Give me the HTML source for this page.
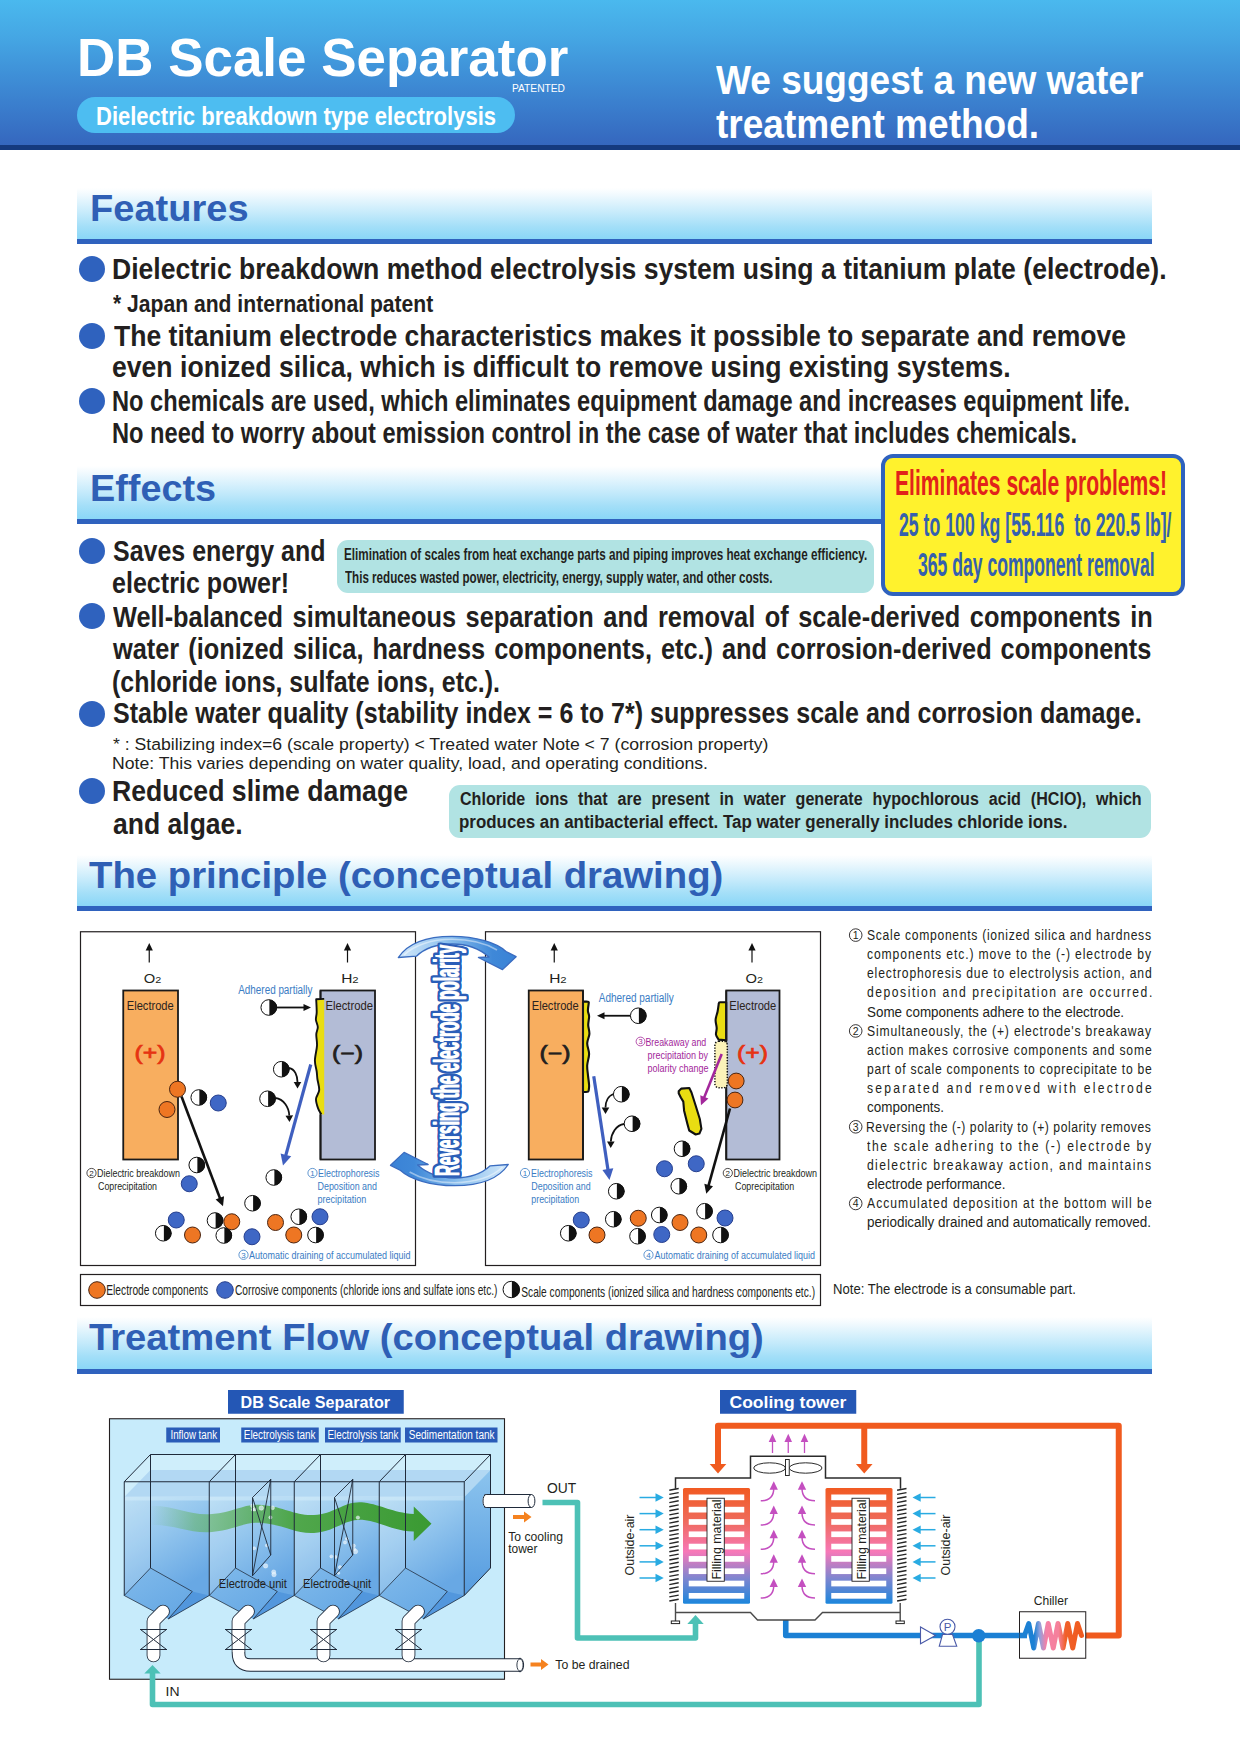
<!DOCTYPE html>
<html lang="en">
<head>
<meta charset="utf-8">
<title>DB Scale Separator</title>
<style>
html,body{margin:0;padding:0;background:#fff;}
body{width:1240px;height:1754px;position:relative;overflow:hidden;font-family:"Liberation Sans",sans-serif;}
.t{position:absolute;white-space:pre;line-height:1em;font-weight:bold;transform-origin:0 0;margin:0;padding:0;}
.hdr{position:absolute;left:0;top:0;width:1240px;height:145px;background:linear-gradient(180deg,#4ab9ee 0%,#45a7e4 25%,#3f91d8 50%,#3a7ccc 75%,#3567be 100%);}
.hdrline{position:absolute;left:0;top:144.5px;width:1240px;height:5.5px;background:#153a7e;}
.pill{position:absolute;left:77px;top:97px;width:438px;height:35.5px;border-radius:18px;background:#4dbdf1;}
.bar{position:absolute;left:77px;width:1075px;background:linear-gradient(180deg,#ffffff 0%,#f2fafe 12%,#c4eafb 50%,#a4dff8 75%,#8ad7f7 100%);border-bottom:5px solid #2f62be;}
.bul{position:absolute;width:26px;height:26px;border-radius:50%;background:#2f62be;left:78.75px;}
.teal{position:absolute;background:#b1e3e3;border-radius:11px;}
.ybox{position:absolute;left:880.7px;top:453.5px;width:296.3px;height:134.8px;border:4.5px solid #2f62be;border-radius:12px;background:#fff22d;}
svg{position:absolute;left:0;top:0;}
</style>
</head>
<body>
<div class="hdr"></div><div class="hdrline"></div>
<div class="pill"></div>

<div class="bar" style="top:188.2px;height:50.6px;"></div>
<div class="bar" style="top:466px;height:52.6px;"></div>
<div class="bar" style="top:855px;height:50.75px;"></div>
<div class="bar" style="top:1316.5px;height:52.2px;"></div>

<div class="bul" style="top:255.75px"></div>
<div class="bul" style="top:322.50px"></div>
<div class="bul" style="top:387.50px"></div>
<div class="bul" style="top:538.25px"></div>
<div class="bul" style="top:603.25px"></div>
<div class="bul" style="top:700.75px"></div>
<div class="bul" style="top:777.50px"></div>

<div class="teal" style="left:337px;top:539.5px;width:537px;height:53px;"></div>
<div class="teal" style="left:448.75px;top:784.5px;width:702.5px;height:53px;"></div>
<div class="ybox"></div>

<svg width="1240" height="1754" viewBox="0 0 1240 1754" font-family="'Liberation Sans', sans-serif">
<defs>
<linearGradient id="swT" x1="0" y1="0" x2="1" y2="0"><stop offset="0" stop-color="#d2e8fa"/><stop offset="0.4" stop-color="#8fc2ee"/><stop offset="0.8" stop-color="#3f88d8"/><stop offset="1" stop-color="#3a82d6"/></linearGradient>
<linearGradient id="swB" x1="1" y1="0" x2="0" y2="0"><stop offset="0" stop-color="#dff0fb"/><stop offset="0.45" stop-color="#8cc3ee"/><stop offset="1" stop-color="#2f7ed2"/></linearGradient>
</defs>
<rect x="80.5" y="931.75" width="335" height="333.75" fill="#fff" stroke="#231f20" stroke-width="1.2"/>
<rect x="485.5" y="931.75" width="335" height="333.75" fill="#fff" stroke="#231f20" stroke-width="1.2"/>
<rect x="80.5" y="1274.5" width="740" height="31" fill="#fff" stroke="#231f20" stroke-width="1.2"/>
<rect x="123.25" y="990.5" width="54.75" height="169" fill="#f8ae5f" stroke="#1a1a1a" stroke-width="1.8"/>
<rect x="320.5" y="990.5" width="54.5" height="169" fill="#b3bcd6" stroke="#1a1a1a" stroke-width="1.8"/>
<rect x="528.75" y="990.5" width="54.25" height="169" fill="#f8ae5f" stroke="#1a1a1a" stroke-width="1.8"/>
<rect x="726.25" y="990.5" width="53.25" height="169" fill="#b3bcd6" stroke="#1a1a1a" stroke-width="1.8"/>
<line x1="149.25" y1="962.5" x2="149.25" y2="949" stroke="#111" stroke-width="1.2"/>
<path d="M149.25,943 L152.85,950.5 L145.65,950.5 Z" fill="#111"/>
<text x="143.7" y="983" font-size="13" fill="#231f20" textLength="17.5" lengthAdjust="spacingAndGlyphs">O<tspan font-size="9.5">2</tspan></text>
<line x1="347.5" y1="962.5" x2="347.5" y2="949" stroke="#111" stroke-width="1.2"/>
<path d="M347.5,943 L351.1,950.5 L343.9,950.5 Z" fill="#111"/>
<text x="341.2" y="983" font-size="13" fill="#231f20" textLength="17.5" lengthAdjust="spacingAndGlyphs">H<tspan font-size="9.5">2</tspan></text>
<line x1="554.25" y1="962.5" x2="554.25" y2="949" stroke="#111" stroke-width="1.2"/>
<path d="M554.25,943 L557.85,950.5 L550.65,950.5 Z" fill="#111"/>
<text x="549.2" y="983" font-size="13" fill="#231f20" textLength="17.5" lengthAdjust="spacingAndGlyphs">H<tspan font-size="9.5">2</tspan></text>
<line x1="752" y1="962.5" x2="752" y2="949" stroke="#111" stroke-width="1.2"/>
<path d="M752,943 L755.6,950.5 L748.4,950.5 Z" fill="#111"/>
<text x="745.45" y="983" font-size="13" fill="#231f20" textLength="17.5" lengthAdjust="spacingAndGlyphs">O<tspan font-size="9.5">2</tspan></text>
<text x="126.75" y="1009.5" font-size="13" fill="#2b2320" font-weight="normal" textLength="47.0" lengthAdjust="spacingAndGlyphs" >Electrode</text>
<text x="325.5" y="1009.5" font-size="13" fill="#2b2320" font-weight="normal" textLength="47.5" lengthAdjust="spacingAndGlyphs" >Electrode</text>
<text x="531.75" y="1009.5" font-size="13" fill="#2b2320" font-weight="normal" textLength="47.0" lengthAdjust="spacingAndGlyphs" >Electrode</text>
<text x="729.25" y="1009.5" font-size="13" fill="#2b2320" font-weight="normal" textLength="47.0" lengthAdjust="spacingAndGlyphs" >Electrode</text>
<text x="150" y="1060" font-size="19.5" font-weight="normal" fill="#e63312" stroke="#e63312" stroke-width="0.7" text-anchor="middle" textLength="31" lengthAdjust="spacingAndGlyphs">(+)</text>
<text x="347.5" y="1060" font-size="19.5" font-weight="normal" fill="#231f20" stroke="#231f20" stroke-width="0.7" text-anchor="middle" textLength="31" lengthAdjust="spacingAndGlyphs">(−)</text>
<text x="555" y="1060" font-size="19.5" font-weight="normal" fill="#231f20" stroke="#231f20" stroke-width="0.7" text-anchor="middle" textLength="31" lengthAdjust="spacingAndGlyphs">(−)</text>
<text x="752.5" y="1060" font-size="19.5" font-weight="normal" fill="#e63312" stroke="#e63312" stroke-width="0.7" text-anchor="middle" textLength="31" lengthAdjust="spacingAndGlyphs">(+)</text>
<path d="M324.2,998.9 L316.2,999.3 C316.28,1001.45 316.75,1008.80 316.70,1012.20 C316.65,1015.60 315.72,1017.22 315.90,1019.70 C316.08,1022.18 317.73,1024.63 317.80,1027.10 C317.87,1029.57 316.43,1031.42 316.30,1034.50 C316.17,1037.58 317.23,1041.28 317.00,1045.60 C316.77,1049.92 314.95,1056.08 314.90,1060.40 C314.85,1064.72 316.28,1068.40 316.70,1071.50 C317.12,1074.60 316.98,1075.90 317.40,1079.00 C317.82,1082.10 319.43,1086.77 319.20,1090.10 C318.97,1093.43 316.17,1095.92 316.00,1099.00 C315.83,1102.08 317.32,1106.07 318.20,1108.60 C319.08,1111.13 320.78,1113.27 321.30,1114.20 L324.2,1114.4 Z" fill="#e9dd12"/>
<path d="M324.2,998.9 L316.2,999.3 C316.28,1001.45 316.75,1008.80 316.70,1012.20 C316.65,1015.60 315.72,1017.22 315.90,1019.70 C316.08,1022.18 317.73,1024.63 317.80,1027.10 C317.87,1029.57 316.43,1031.42 316.30,1034.50 C316.17,1037.58 317.23,1041.28 317.00,1045.60 C316.77,1049.92 314.95,1056.08 314.90,1060.40 C314.85,1064.72 316.28,1068.40 316.70,1071.50 C317.12,1074.60 316.98,1075.90 317.40,1079.00 C317.82,1082.10 319.43,1086.77 319.20,1090.10 C318.97,1093.43 316.17,1095.92 316.00,1099.00 C315.83,1102.08 317.32,1106.07 318.20,1108.60 C319.08,1111.13 320.78,1113.27 321.30,1114.20" fill="none" stroke="#111" stroke-width="1.9" stroke-linejoin="round"/>
<line x1="320.5" y1="990.5" x2="320.5" y2="998" stroke="#1a1a1a" stroke-width="1.8"/>
<line x1="320.5" y1="1114.6" x2="320.5" y2="1159.5" stroke="#1a1a1a" stroke-width="1.8"/>
<text x="238.25" y="993.75" font-size="12.5" fill="#3a7cc4" font-weight="normal" textLength="74.2" lengthAdjust="spacingAndGlyphs" >Adhered partially</text>
<circle cx="268.75" cy="1007.5" r="7.8" fill="#fff"/>
<path d="M269.35,999.7 A7.8,7.8 0 0 1 269.35,1015.3 Z" fill="#111"/>
<circle cx="268.75" cy="1007.5" r="7.8" fill="none" stroke="#111" stroke-width="1"/>
<line x1="277.00" y1="1007.50" x2="304.50" y2="1007.50" stroke="#111" stroke-width="1.8"/>
<path d="M311.00,1007.50 L303.50,1011.10 L303.50,1007.50 L303.50,1003.90 Z" fill="#111"/>
<circle cx="281.25" cy="1069.25" r="7.8" fill="#fff"/>
<path d="M281.85,1061.45 A7.8,7.8 0 0 1 281.85,1077.05 Z" fill="#111"/>
<circle cx="281.25" cy="1069.25" r="7.8" fill="none" stroke="#111" stroke-width="1"/>
<path d="M289,1068 C295,1069 297.5,1076 297.50,1082.00" fill="none" stroke="#111" stroke-width="1.8"/>
<path d="M297.50,1088.50 L293.70,1082.00 L301.30,1082.00 Z" fill="#111"/>
<circle cx="267.5" cy="1098.75" r="7.8" fill="#fff"/>
<path d="M268.1,1090.95 A7.8,7.8 0 0 1 268.1,1106.55 Z" fill="#111"/>
<circle cx="267.5" cy="1098.75" r="7.8" fill="none" stroke="#111" stroke-width="1"/>
<path d="M275.3,1098 C284,1099 289,1108 289.27,1115.50" fill="none" stroke="#111" stroke-width="1.8"/>
<path d="M289.50,1122.00 L285.47,1115.64 L293.07,1115.37 Z" fill="#111"/>
<line x1="310.75" y1="1064.50" x2="285.65" y2="1155.86" stroke="#3f5fbf" stroke-width="3.2"/>
<path d="M283.00,1165.50 L280.61,1153.44 L285.91,1154.89 L291.22,1156.35 Z" fill="#3f5fbf"/>
<circle cx="177.5" cy="1089.25" r="8" fill="#ee7623" stroke="#4a2410" stroke-width="1"/>
<circle cx="167" cy="1109.5" r="8" fill="#ee7623" stroke="#4a2410" stroke-width="1"/>
<line x1="181.50" y1="1096.50" x2="220.17" y2="1198.77" stroke="#111" stroke-width="2.6"/>
<path d="M223.00,1206.25 L215.61,1199.42 L219.82,1197.83 L224.03,1196.24 Z" fill="#111"/>
<circle cx="198.75" cy="1097.5" r="7.8" fill="#fff"/>
<path d="M199.35,1089.7 A7.8,7.8 0 0 1 199.35,1105.3 Z" fill="#111"/>
<circle cx="198.75" cy="1097.5" r="7.8" fill="none" stroke="#111" stroke-width="1"/>
<circle cx="218.25" cy="1103" r="8" fill="#3f67c5" stroke="#27408f" stroke-width="1"/>
<circle cx="196.75" cy="1165" r="7.8" fill="#fff"/>
<path d="M197.35,1157.2 A7.8,7.8 0 0 1 197.35,1172.8 Z" fill="#111"/>
<circle cx="196.75" cy="1165" r="7.8" fill="none" stroke="#111" stroke-width="1"/>
<circle cx="189.25" cy="1183.75" r="8" fill="#3f67c5" stroke="#27408f" stroke-width="1"/>
<circle cx="273.75" cy="1177.5" r="7.8" fill="#fff"/>
<path d="M274.35,1169.7 A7.8,7.8 0 0 1 274.35,1185.3 Z" fill="#111"/>
<circle cx="273.75" cy="1177.5" r="7.8" fill="none" stroke="#111" stroke-width="1"/>
<circle cx="252.5" cy="1203.25" r="7.8" fill="#fff"/>
<path d="M253.1,1195.45 A7.8,7.8 0 0 1 253.1,1211.05 Z" fill="#111"/>
<circle cx="252.5" cy="1203.25" r="7.8" fill="none" stroke="#111" stroke-width="1"/>
<circle cx="176.25" cy="1220" r="8" fill="#3f67c5" stroke="#27408f" stroke-width="1"/>
<circle cx="215" cy="1220.5" r="7.8" fill="#fff"/>
<path d="M215.6,1212.7 A7.8,7.8 0 0 1 215.6,1228.3 Z" fill="#111"/>
<circle cx="215" cy="1220.5" r="7.8" fill="none" stroke="#111" stroke-width="1"/>
<circle cx="231.75" cy="1221.75" r="8" fill="#ee7623" stroke="#4a2410" stroke-width="1"/>
<circle cx="275.5" cy="1222.5" r="8" fill="#ee7623" stroke="#4a2410" stroke-width="1"/>
<circle cx="298.75" cy="1216.75" r="7.8" fill="#fff"/>
<path d="M299.35,1208.95 A7.8,7.8 0 0 1 299.35,1224.55 Z" fill="#111"/>
<circle cx="298.75" cy="1216.75" r="7.8" fill="none" stroke="#111" stroke-width="1"/>
<circle cx="320" cy="1216.75" r="8" fill="#3f67c5" stroke="#27408f" stroke-width="1"/>
<circle cx="163.25" cy="1233.25" r="7.8" fill="#fff"/>
<path d="M163.85,1225.45 A7.8,7.8 0 0 1 163.85,1241.05 Z" fill="#111"/>
<circle cx="163.25" cy="1233.25" r="7.8" fill="none" stroke="#111" stroke-width="1"/>
<circle cx="192.5" cy="1235" r="8" fill="#ee7623" stroke="#4a2410" stroke-width="1"/>
<circle cx="223.75" cy="1235.5" r="7.8" fill="#fff"/>
<path d="M224.35,1227.7 A7.8,7.8 0 0 1 224.35,1243.3 Z" fill="#111"/>
<circle cx="223.75" cy="1235.5" r="7.8" fill="none" stroke="#111" stroke-width="1"/>
<circle cx="252" cy="1236.75" r="8" fill="#3f67c5" stroke="#27408f" stroke-width="1"/>
<circle cx="293.75" cy="1235" r="8" fill="#ee7623" stroke="#4a2410" stroke-width="1"/>
<circle cx="315.5" cy="1235" r="7.8" fill="#fff"/>
<path d="M316.1,1227.2 A7.8,7.8 0 0 1 316.1,1242.8 Z" fill="#111"/>
<circle cx="315.5" cy="1235" r="7.8" fill="none" stroke="#111" stroke-width="1"/>
<circle cx="91.5" cy="1173" r="4.6" fill="none" stroke="#231f20" stroke-width="0.8"/>
<text x="91.5" y="1175.88" font-size="8" fill="#231f20" text-anchor="middle">2</text>
<text x="97" y="1177" font-size="11.5" fill="#231f20" font-weight="normal" textLength="83.0" lengthAdjust="spacingAndGlyphs" >Dielectric breakdown</text>
<text x="98" y="1190" font-size="11.5" fill="#231f20" font-weight="normal" textLength="59.0" lengthAdjust="spacingAndGlyphs" >Coprecipitation</text>
<circle cx="312.5" cy="1173" r="4.6" fill="none" stroke="#3a7cc4" stroke-width="0.8"/>
<text x="312.5" y="1175.88" font-size="8" fill="#3a7cc4" text-anchor="middle">1</text>
<text x="318" y="1177" font-size="11.5" fill="#3a7cc4" font-weight="normal" textLength="61.5" lengthAdjust="spacingAndGlyphs" >Electrophoresis</text>
<text x="317.5" y="1190" font-size="11.5" fill="#3a7cc4" font-weight="normal" textLength="59.5" lengthAdjust="spacingAndGlyphs" >Deposition and</text>
<text x="317.5" y="1203" font-size="11.5" fill="#3a7cc4" font-weight="normal" textLength="48.8" lengthAdjust="spacingAndGlyphs" >precipitation</text>
<circle cx="243.5" cy="1254.8" r="4.6" fill="none" stroke="#3a7cc4" stroke-width="0.8"/>
<text x="243.5" y="1257.68" font-size="8" fill="#3a7cc4" text-anchor="middle">3</text>
<text x="249" y="1258.75" font-size="11.5" fill="#3a7cc4" font-weight="normal" textLength="161.5" lengthAdjust="spacingAndGlyphs" >Automatic draining of accumulated liquid</text>
<path d="M583,1001.6 L586.5,1001.6 Q588.8,1001.6 588.8,1002.6 C588.65,1003.95 587.85,1008.42 587.90,1010.70 C587.95,1012.98 589.05,1013.90 589.10,1016.30 C589.15,1018.70 588.15,1022.17 588.20,1025.10 C588.25,1028.03 589.57,1030.87 589.40,1033.90 C589.23,1036.93 587.25,1039.97 587.20,1043.30 C587.15,1046.63 589.10,1050.25 589.10,1053.90 C589.10,1057.55 587.40,1061.75 587.20,1065.20 C587.00,1068.65 587.58,1071.27 587.90,1074.60 C588.22,1077.93 588.97,1082.57 589.10,1085.20 C589.23,1087.83 588.77,1089.53 588.70,1090.40 Q588.5,1092 586,1092 L583,1092 Z" fill="#e9dd12" stroke="#111" stroke-width="2.1" stroke-linejoin="round"/>
<line x1="583" y1="990.5" x2="583" y2="1159.5" stroke="#1a1a1a" stroke-width="1.8"/>
<text x="598.75" y="1002" font-size="12.5" fill="#3a7cc4" font-weight="normal" textLength="75.0" lengthAdjust="spacingAndGlyphs" >Adhered partially</text>
<circle cx="638.25" cy="1015.75" r="7.8" fill="#fff"/>
<path d="M638.85,1007.95 A7.8,7.8 0 0 1 638.85,1023.55 Z" fill="#111"/>
<circle cx="638.25" cy="1015.75" r="7.8" fill="none" stroke="#111" stroke-width="1"/>
<line x1="630.00" y1="1015.75" x2="603.50" y2="1015.75" stroke="#111" stroke-width="1.8"/>
<path d="M597.00,1015.75 L604.50,1012.15 L604.50,1015.75 L604.50,1019.35 Z" fill="#111"/>
<circle cx="640.5" cy="1041.5" r="4.4" fill="none" stroke="#a3279b" stroke-width="0.8"/>
<text x="640.5" y="1044.20" font-size="7.5" fill="#a3279b" text-anchor="middle">3</text>
<text x="645.5" y="1045.5" font-size="11.5" fill="#a3279b" font-weight="normal" textLength="60.7" lengthAdjust="spacingAndGlyphs" >Breakaway and</text>
<text x="647.5" y="1058.75" font-size="11.5" fill="#a3279b" font-weight="normal" textLength="60.5" lengthAdjust="spacingAndGlyphs" >precipitation by</text>
<text x="647.5" y="1071.75" font-size="11.5" fill="#a3279b" font-weight="normal" textLength="61.1" lengthAdjust="spacingAndGlyphs" >polarity change</text>
<path d="M726.2,1002.2 L720,1002.2 Q718.8,1002.2 718.8,1003.4 C718.60,1004.75 718.13,1008.77 717.60,1011.50 C717.07,1014.23 715.75,1017.03 715.60,1019.80 C715.45,1022.57 716.63,1025.62 716.70,1028.10 C716.77,1030.58 715.68,1032.78 716.00,1034.70 C716.32,1036.62 718.17,1038.78 718.60,1039.60 L726.2,1040.3 Z" fill="#e9dd12" stroke="#111" stroke-width="2.1" stroke-linejoin="round"/>
<rect x="714.9" y="1041.2" width="12.4" height="46.6" rx="4" ry="4" fill="#fbf3b9" stroke="#111" stroke-width="1.5" stroke-dasharray="1.3,1.5"/>
<line x1="726.25" y1="990.5" x2="726.25" y2="1041" stroke="#1a1a1a" stroke-width="1.8"/>
<line x1="726.25" y1="1088.3" x2="726.25" y2="1159.5" stroke="#1a1a1a" stroke-width="1.8"/>
<line x1="721.70" y1="1054.10" x2="704.00" y2="1097.88" stroke="#a3279b" stroke-width="2.6"/>
<path d="M701.00,1105.30 L700.29,1095.31 L704.37,1096.96 L708.45,1098.61 Z" fill="#a3279b"/>
<circle cx="736.2" cy="1081" r="7.9" fill="#ee7623" stroke="#4a2410" stroke-width="1"/>
<circle cx="735" cy="1100" r="7.9" fill="#ee7623" stroke="#4a2410" stroke-width="1"/>
<line x1="730.00" y1="1108.50" x2="708.40" y2="1186.04" stroke="#111" stroke-width="2.6"/>
<path d="M706.25,1193.75 L704.33,1183.87 L708.67,1185.08 L713.00,1186.29 Z" fill="#111"/>
<path d="M678.7,1091.3 L681.2,1088.6 L689.3,1088 L691.5,1092.5 L695.7,1105.7 L699.8,1119 L701.4,1128.9 L699.4,1133.6 L695.7,1134.5 L689.2,1130.5 L687.4,1123.9 L684.1,1110.7 L683.3,1101.6 L680.8,1097.5 L678.7,1093.3 Z" fill="#e9dd12" stroke="#111" stroke-width="2.1" stroke-linejoin="round"/>
<line x1="593.75" y1="1076.25" x2="608.00" y2="1170.11" stroke="#3f5fbf" stroke-width="3.2"/>
<path d="M609.50,1180.00 L602.41,1169.95 L607.85,1169.12 L613.29,1168.30 Z" fill="#3f5fbf"/>
<circle cx="621.25" cy="1094.25" r="7.8" fill="#fff"/>
<path d="M621.85,1086.45 A7.8,7.8 0 0 1 621.85,1102.05 Z" fill="#111"/>
<circle cx="621.25" cy="1094.25" r="7.8" fill="none" stroke="#111" stroke-width="1"/>
<path d="M613.5,1094 C608,1096 605.5,1102 605.50,1107.50" fill="none" stroke="#111" stroke-width="1.8"/>
<path d="M605.50,1114.00 L601.70,1107.50 L609.30,1107.50 Z" fill="#111"/>
<circle cx="632" cy="1123.75" r="7.8" fill="#fff"/>
<path d="M632.6,1115.95 A7.8,7.8 0 0 1 632.6,1131.55 Z" fill="#111"/>
<circle cx="632" cy="1123.75" r="7.8" fill="none" stroke="#111" stroke-width="1"/>
<path d="M624.2,1124 C616,1125 611,1134 610.84,1141.50" fill="none" stroke="#111" stroke-width="1.8"/>
<path d="M610.70,1148.00 L607.04,1141.42 L614.64,1141.58 Z" fill="#111"/>
<circle cx="682" cy="1148.75" r="7.8" fill="#fff"/>
<path d="M682.6,1140.95 A7.8,7.8 0 0 1 682.6,1156.55 Z" fill="#111"/>
<circle cx="682" cy="1148.75" r="7.8" fill="none" stroke="#111" stroke-width="1"/>
<circle cx="664.5" cy="1168.75" r="8" fill="#3f67c5" stroke="#27408f" stroke-width="1"/>
<circle cx="696.25" cy="1163.75" r="8" fill="#3f67c5" stroke="#27408f" stroke-width="1"/>
<circle cx="678.75" cy="1186.25" r="7.8" fill="#fff"/>
<path d="M679.35,1178.45 A7.8,7.8 0 0 1 679.35,1194.05 Z" fill="#111"/>
<circle cx="678.75" cy="1186.25" r="7.8" fill="none" stroke="#111" stroke-width="1"/>
<circle cx="616.25" cy="1191.25" r="7.8" fill="#fff"/>
<path d="M616.85,1183.45 A7.8,7.8 0 0 1 616.85,1199.05 Z" fill="#111"/>
<circle cx="616.25" cy="1191.25" r="7.8" fill="none" stroke="#111" stroke-width="1"/>
<circle cx="581.25" cy="1220" r="8" fill="#3f67c5" stroke="#27408f" stroke-width="1"/>
<circle cx="613.25" cy="1219.25" r="7.8" fill="#fff"/>
<path d="M613.85,1211.45 A7.8,7.8 0 0 1 613.85,1227.05 Z" fill="#111"/>
<circle cx="613.25" cy="1219.25" r="7.8" fill="none" stroke="#111" stroke-width="1"/>
<circle cx="638.25" cy="1218.25" r="8" fill="#ee7623" stroke="#4a2410" stroke-width="1"/>
<circle cx="659.25" cy="1215" r="7.8" fill="#fff"/>
<path d="M659.85,1207.2 A7.8,7.8 0 0 1 659.85,1222.8 Z" fill="#111"/>
<circle cx="659.25" cy="1215" r="7.8" fill="none" stroke="#111" stroke-width="1"/>
<circle cx="680" cy="1222.5" r="8" fill="#ee7623" stroke="#4a2410" stroke-width="1"/>
<circle cx="704.5" cy="1211.25" r="7.8" fill="#fff"/>
<path d="M705.1,1203.45 A7.8,7.8 0 0 1 705.1,1219.05 Z" fill="#111"/>
<circle cx="704.5" cy="1211.25" r="7.8" fill="none" stroke="#111" stroke-width="1"/>
<circle cx="725" cy="1218" r="8" fill="#3f67c5" stroke="#27408f" stroke-width="1"/>
<circle cx="568.25" cy="1233.25" r="7.8" fill="#fff"/>
<path d="M568.85,1225.45 A7.8,7.8 0 0 1 568.85,1241.05 Z" fill="#111"/>
<circle cx="568.25" cy="1233.25" r="7.8" fill="none" stroke="#111" stroke-width="1"/>
<circle cx="597" cy="1235" r="8" fill="#ee7623" stroke="#4a2410" stroke-width="1"/>
<circle cx="637.5" cy="1236.25" r="7.8" fill="#fff"/>
<path d="M638.1,1228.45 A7.8,7.8 0 0 1 638.1,1244.05 Z" fill="#111"/>
<circle cx="637.5" cy="1236.25" r="7.8" fill="none" stroke="#111" stroke-width="1"/>
<circle cx="661.75" cy="1234.5" r="8" fill="#3f67c5" stroke="#27408f" stroke-width="1"/>
<circle cx="698.75" cy="1235" r="8" fill="#ee7623" stroke="#4a2410" stroke-width="1"/>
<circle cx="720.5" cy="1235" r="7.8" fill="#fff"/>
<path d="M721.1,1227.2 A7.8,7.8 0 0 1 721.1,1242.8 Z" fill="#111"/>
<circle cx="720.5" cy="1235" r="7.8" fill="none" stroke="#111" stroke-width="1"/>
<circle cx="525" cy="1173" r="4.6" fill="none" stroke="#3a7cc4" stroke-width="0.8"/>
<text x="525" y="1175.88" font-size="8" fill="#3a7cc4" text-anchor="middle">1</text>
<text x="531" y="1177" font-size="11.5" fill="#3a7cc4" font-weight="normal" textLength="61.5" lengthAdjust="spacingAndGlyphs" >Electrophoresis</text>
<text x="531.25" y="1190" font-size="11.5" fill="#3a7cc4" font-weight="normal" textLength="59.5" lengthAdjust="spacingAndGlyphs" >Deposition and</text>
<text x="531.25" y="1203" font-size="11.5" fill="#3a7cc4" font-weight="normal" textLength="48.0" lengthAdjust="spacingAndGlyphs" >precipitation</text>
<circle cx="727.8" cy="1173" r="4.6" fill="none" stroke="#231f20" stroke-width="0.8"/>
<text x="727.8" y="1175.88" font-size="8" fill="#231f20" text-anchor="middle">2</text>
<text x="733.5" y="1177" font-size="11.5" fill="#231f20" font-weight="normal" textLength="83.5" lengthAdjust="spacingAndGlyphs" >Dielectric breakdown</text>
<text x="735" y="1190" font-size="11.5" fill="#231f20" font-weight="normal" textLength="59.2" lengthAdjust="spacingAndGlyphs" >Coprecipitation</text>
<circle cx="648.5" cy="1254.8" r="4.6" fill="none" stroke="#3a7cc4" stroke-width="0.8"/>
<text x="648.5" y="1257.68" font-size="8" fill="#3a7cc4" text-anchor="middle">4</text>
<text x="654.5" y="1258.75" font-size="11.5" fill="#3a7cc4" font-weight="normal" textLength="160.5" lengthAdjust="spacingAndGlyphs" >Automatic draining of accumulated liquid</text>
<circle cx="97" cy="1290" r="8.3" fill="#ee7623" stroke="#4a2410" stroke-width="1"/>
<text x="106.25" y="1295" font-size="14.5" fill="#231f20" font-weight="normal" textLength="101.8" lengthAdjust="spacingAndGlyphs" >Electrode components</text>
<circle cx="225" cy="1290" r="8.3" fill="#3f67c5" stroke="#27408f" stroke-width="1"/>
<text x="235" y="1294.5" font-size="14.5" fill="#231f20" font-weight="normal" textLength="262.5" lengthAdjust="spacingAndGlyphs" >Corrosive components (chloride ions and sulfate ions etc.)</text>
<circle cx="511.25" cy="1289.5" r="8.2" fill="#fff"/>
<path d="M511.85,1281.3 A8.2,8.2 0 0 1 511.85,1297.7 Z" fill="#111"/>
<circle cx="511.25" cy="1289.5" r="8.2" fill="none" stroke="#111" stroke-width="1"/>
<text x="521.25" y="1296.5" font-size="14.5" fill="#231f20" font-weight="normal" textLength="293.8" lengthAdjust="spacingAndGlyphs" >Scale components (ionized silica and hardness components etc.)</text>
<circle cx="855.7" cy="935.10" r="6.3" fill="none" stroke="#231f20" stroke-width="0.9"/>
<text x="855.7" y="938.80" font-size="10.5" fill="#231f20" text-anchor="middle">1</text>
<circle cx="855.7" cy="1030.95" r="6.3" fill="none" stroke="#231f20" stroke-width="0.9"/>
<text x="855.7" y="1034.65" font-size="10.5" fill="#231f20" text-anchor="middle">2</text>
<circle cx="855.7" cy="1126.80" r="6.3" fill="none" stroke="#231f20" stroke-width="0.9"/>
<text x="855.7" y="1130.50" font-size="10.5" fill="#231f20" text-anchor="middle">3</text>
<circle cx="855.7" cy="1203.48" r="6.3" fill="none" stroke="#231f20" stroke-width="0.9"/>
<text x="855.7" y="1207.18" font-size="10.5" fill="#231f20" text-anchor="middle">4</text>
<path d="M398.3,957.5 C408,943 428,936.3 452,936.3 C476,936.3 497,943 506,951.5 L516.1,956.7 L502.5,969.6 L478.4,957.5 L489,957 C480,949 468,944 452,944 C436,944 424,949 416.4,956.2 Z" fill="url(#swT)" stroke="#3a6cc0" stroke-width="1.3" stroke-linejoin="round"/>
<path d="M404,955 C414,945 432,939.3 452,939.3 C470,939.3 486,943.5 497,950" fill="none" stroke="#ffffff" stroke-opacity="0.45" stroke-width="1.6"/>
<g transform="rotate(180 453.3 1061)"><path d="M398.3,957.5 C408,943 428,936.3 452,936.3 C476,936.3 497,943 506,951.5 L516.1,956.7 L502.5,969.6 L478.4,957.5 L489,957 C480,949 468,944 452,944 C436,944 424,949 416.4,956.2 Z" fill="url(#swT)" stroke="#3a6cc0" stroke-width="1.3" stroke-linejoin="round"/><path d="M404,955 C414,945 432,939.3 452,939.3 C470,939.3 486,943.5 497,950" fill="none" stroke="#ffffff" stroke-opacity="0.45" stroke-width="1.6"/></g>
<text transform="translate(459,1174.3) rotate(-90)" font-size="35" font-weight="bold" fill="#2b5eb8" stroke="#2b5eb8" stroke-width="4.6" stroke-linejoin="round" textLength="231" lengthAdjust="spacingAndGlyphs">Reversing the electrode polarity</text>
<text transform="translate(459,1175.15) rotate(-90)" font-size="35" font-weight="bold" fill="#2b5eb8" stroke="#2b5eb8" stroke-width="4.6" stroke-linejoin="round" textLength="231" lengthAdjust="spacingAndGlyphs">Reversing the electrode polarity</text>
<text transform="translate(459,1176) rotate(-90)" font-size="35" font-weight="bold" fill="#2b5eb8" stroke="#2b5eb8" stroke-width="4.6" stroke-linejoin="round" textLength="231" lengthAdjust="spacingAndGlyphs">Reversing the electrode polarity</text>
<text transform="translate(459,1176.85) rotate(-90)" font-size="35" font-weight="bold" fill="#2b5eb8" stroke="#2b5eb8" stroke-width="4.6" stroke-linejoin="round" textLength="231" lengthAdjust="spacingAndGlyphs">Reversing the electrode polarity</text>
<text transform="translate(459,1177.7) rotate(-90)" font-size="35" font-weight="bold" fill="#2b5eb8" stroke="#2b5eb8" stroke-width="4.6" stroke-linejoin="round" textLength="231" lengthAdjust="spacingAndGlyphs">Reversing the electrode polarity</text>
<text transform="translate(459,1175.65) rotate(-90)" font-size="35" font-weight="bold" fill="#fff" stroke="#fff" stroke-width="0.25" stroke-linejoin="round" textLength="231" lengthAdjust="spacingAndGlyphs">Reversing the electrode polarity</text>
<text transform="translate(459,1176.35) rotate(-90)" font-size="35" font-weight="bold" fill="#fff" stroke="#fff" stroke-width="0.25" stroke-linejoin="round" textLength="231" lengthAdjust="spacingAndGlyphs">Reversing the electrode polarity</text>
</svg>
<svg width="1240" height="1754" viewBox="0 0 1240 1754" font-family="'Liberation Sans', sans-serif">
<defs>
<linearGradient id="wat" x1="0" y1="0" x2="0.55" y2="1"><stop offset="0" stop-color="#b4dbf4"/><stop offset="0.45" stop-color="#95c7ee"/><stop offset="1" stop-color="#68a8e4"/></linearGradient>
<linearGradient id="watside" x1="0" y1="0" x2="0" y2="1"><stop offset="0" stop-color="#8cc4ee"/><stop offset="1" stop-color="#559bdf"/></linearGradient>
<linearGradient id="hop" x1="0" y1="0" x2="1" y2="1"><stop offset="0" stop-color="#80baeb"/><stop offset="1" stop-color="#5fa3e2"/></linearGradient>
<linearGradient id="grn" x1="0" y1="0" x2="1" y2="0"><stop offset="0" stop-color="#6bb86a" stop-opacity="0"/><stop offset="0.16" stop-color="#62b35f" stop-opacity="0.55"/><stop offset="0.5" stop-color="#4ca544" stop-opacity="0.95"/><stop offset="1" stop-color="#3a9a32"/></linearGradient>
<linearGradient id="fill" x1="0" y1="0" x2="0" y2="1"><stop offset="0" stop-color="#f15a22"/><stop offset="0.28" stop-color="#ef6a5a"/><stop offset="0.55" stop-color="#f778b8"/><stop offset="0.78" stop-color="#7f86d0"/><stop offset="1" stop-color="#1b86dc"/></linearGradient>
<linearGradient id="coil" x1="0" y1="0" x2="1" y2="0"><stop offset="0" stop-color="#1b80d4"/><stop offset="0.17" stop-color="#1b80d4"/><stop offset="0.27" stop-color="#93a0dc"/><stop offset="0.38" stop-color="#f580a6"/><stop offset="0.60" stop-color="#f5809a"/><stop offset="0.72" stop-color="#f0602a"/><stop offset="1" stop-color="#f05a1e"/></linearGradient>
</defs>
<rect x="228" y="1390" width="175.75" height="23.75" fill="#2457b5"/>
<text x="240.5" y="1408" font-size="16" fill="#fff" font-weight="bold" textLength="149.5" lengthAdjust="spacingAndGlyphs" >DB Scale Separator</text>
<rect x="720" y="1390" width="136.25" height="23.75" fill="#2457b5"/>
<text x="729.5" y="1408" font-size="16" fill="#fff" font-weight="bold" textLength="116.8" lengthAdjust="spacingAndGlyphs" >Cooling tower</text>
<rect x="109.5" y="1418.75" width="395" height="260.5" fill="#c7ebfb" stroke="#231f20" stroke-width="1.1"/>
<rect x="166.25" y="1427.5" width="53.75" height="15" fill="#2a5cb8"/>
<text x="170.5" y="1439.2" font-size="12" fill="#fff" font-weight="normal" textLength="46.5" lengthAdjust="spacingAndGlyphs" >Inflow tank</text>
<rect x="241.25" y="1427.5" width="77.5" height="15" fill="#2a5cb8"/>
<text x="243.75" y="1439.2" font-size="12" fill="#fff" font-weight="normal" textLength="71.8" lengthAdjust="spacingAndGlyphs" >Electrolysis tank</text>
<rect x="325" y="1427.5" width="75.75" height="15" fill="#2a5cb8"/>
<text x="327.5" y="1439.2" font-size="12" fill="#fff" font-weight="normal" textLength="71.0" lengthAdjust="spacingAndGlyphs" >Electrolysis tank</text>
<rect x="405" y="1427.5" width="92.5" height="15" fill="#2a5cb8"/>
<text x="408.75" y="1439.2" font-size="12" fill="#fff" font-weight="normal" textLength="85.8" lengthAdjust="spacingAndGlyphs" >Sedimentation tank</text>
<polygon points="124.25,1481.75 150.5,1454.5 490.5,1454.5 490.5,1470.0 464.25,1497 124.25,1497" fill="#cfeefb"/>
<polygon points="124.25,1497 150.5,1470.0 490.5,1470.0 464.25,1497" fill="#b2d8f3"/>
<polygon points="464.25,1497 490.5,1470.0 490.5,1568 464.25,1595.5" fill="url(#watside)"/>
<rect x="124.25" y="1497" width="85" height="98.5" fill="url(#wat)"/>
<polygon points="124.25,1497 150.5,1497 150.5,1568 124.25,1595.5" fill="#ffffff" fill-opacity="0.13"/>
<polygon points="124.25,1595.5 150.5,1568 192.25,1591.5 209.25,1595.5 168.25,1619.0 154.25,1611.5" fill="url(#hop)"/>
<polygon points="192.25,1591.5 209.25,1595.5 168.25,1619.0" fill="#5297dd"/>
<rect x="209.25" y="1497" width="85" height="98.5" fill="url(#wat)"/>
<polygon points="209.25,1497 235.5,1497 235.5,1568 209.25,1595.5" fill="#ffffff" fill-opacity="0.13"/>
<polygon points="209.25,1595.5 235.5,1568 277.25,1591.5 294.25,1595.5 253.25,1619.0 239.25,1611.5" fill="url(#hop)"/>
<polygon points="277.25,1591.5 294.25,1595.5 253.25,1619.0" fill="#5297dd"/>
<rect x="294.25" y="1497" width="85" height="98.5" fill="url(#wat)"/>
<polygon points="294.25,1497 320.5,1497 320.5,1568 294.25,1595.5" fill="#ffffff" fill-opacity="0.13"/>
<polygon points="294.25,1595.5 320.5,1568 362.25,1591.5 379.25,1595.5 338.25,1619.0 324.25,1611.5" fill="url(#hop)"/>
<polygon points="362.25,1591.5 379.25,1595.5 338.25,1619.0" fill="#5297dd"/>
<rect x="379.25" y="1497" width="85" height="98.5" fill="url(#wat)"/>
<polygon points="379.25,1497 405.5,1497 405.5,1568 379.25,1595.5" fill="#ffffff" fill-opacity="0.13"/>
<polygon points="379.25,1595.5 405.5,1568 447.25,1591.5 464.25,1595.5 423.25,1619.0 409.25,1611.5" fill="url(#hop)"/>
<polygon points="447.25,1591.5 464.25,1595.5 423.25,1619.0" fill="#5297dd"/>
<rect x="124.25" y="1496.5" width="340" height="4" fill="#d4ecfa" fill-opacity="0.55"/>
<path d="M150,1506 C175,1505 190,1516 212,1514 C235,1512 245,1503 262,1505 C285,1507 295,1516 314,1515 C335,1514 345,1500 364,1502.5 C382,1505 392,1512.5 413.75,1514 L413.75,1506.5 L431.5,1523.75 L413.75,1541 L413.75,1531.5 C392,1531 382,1522 364,1520 C345,1518 335,1532 314,1533 C295,1534 285,1525 262,1523 C245,1521 235,1530 212,1532 C190,1534 175,1524 150,1525 Z" fill="url(#grn)"/>
<circle cx="254.6" cy="1509.3" r="1.7" fill="#e6f4fd" fill-opacity="0.7" stroke="#ffffff" stroke-opacity="0.8" stroke-width="0.5"/>
<circle cx="252.3" cy="1506.0" r="1.7" fill="#e6f4fd" fill-opacity="0.7" stroke="#ffffff" stroke-opacity="0.8" stroke-width="0.5"/>
<circle cx="273.7" cy="1572.0" r="2.1" fill="#e6f4fd" fill-opacity="0.7" stroke="#ffffff" stroke-opacity="0.8" stroke-width="0.5"/>
<circle cx="254.2" cy="1548.3" r="1.5" fill="#e6f4fd" fill-opacity="0.7" stroke="#ffffff" stroke-opacity="0.8" stroke-width="0.5"/>
<circle cx="252.8" cy="1509.6" r="1.5" fill="#e6f4fd" fill-opacity="0.7" stroke="#ffffff" stroke-opacity="0.8" stroke-width="0.5"/>
<circle cx="274.0" cy="1574.6" r="2.2" fill="#e6f4fd" fill-opacity="0.7" stroke="#ffffff" stroke-opacity="0.8" stroke-width="0.5"/>
<circle cx="270.4" cy="1517.4" r="1.6" fill="#e6f4fd" fill-opacity="0.7" stroke="#ffffff" stroke-opacity="0.8" stroke-width="0.5"/>
<circle cx="265.6" cy="1565.9" r="2.2" fill="#e6f4fd" fill-opacity="0.7" stroke="#ffffff" stroke-opacity="0.8" stroke-width="0.5"/>
<circle cx="272.6" cy="1507.8" r="1.9" fill="#e6f4fd" fill-opacity="0.7" stroke="#ffffff" stroke-opacity="0.8" stroke-width="0.5"/>
<circle cx="266.8" cy="1545.5" r="1.4" fill="#e6f4fd" fill-opacity="0.7" stroke="#ffffff" stroke-opacity="0.8" stroke-width="0.5"/>
<circle cx="261.3" cy="1508.0" r="2.3" fill="#e6f4fd" fill-opacity="0.7" stroke="#ffffff" stroke-opacity="0.8" stroke-width="0.5"/>
<circle cx="354.2" cy="1549.3" r="1.6" fill="#e6f4fd" fill-opacity="0.7" stroke="#ffffff" stroke-opacity="0.8" stroke-width="0.5"/>
<circle cx="355.4" cy="1551.5" r="2.3" fill="#e6f4fd" fill-opacity="0.7" stroke="#ffffff" stroke-opacity="0.8" stroke-width="0.5"/>
<circle cx="353.7" cy="1545.8" r="1.7" fill="#e6f4fd" fill-opacity="0.7" stroke="#ffffff" stroke-opacity="0.8" stroke-width="0.5"/>
<circle cx="346.8" cy="1538.8" r="1.4" fill="#e6f4fd" fill-opacity="0.7" stroke="#ffffff" stroke-opacity="0.8" stroke-width="0.5"/>
<circle cx="338.5" cy="1573.1" r="1.3" fill="#e6f4fd" fill-opacity="0.7" stroke="#ffffff" stroke-opacity="0.8" stroke-width="0.5"/>
<circle cx="331.3" cy="1556.4" r="1.5" fill="#e6f4fd" fill-opacity="0.7" stroke="#ffffff" stroke-opacity="0.8" stroke-width="0.5"/>
<circle cx="345.0" cy="1542.4" r="1.6" fill="#e6f4fd" fill-opacity="0.7" stroke="#ffffff" stroke-opacity="0.8" stroke-width="0.5"/>
<circle cx="357.9" cy="1517.6" r="1.7" fill="#e6f4fd" fill-opacity="0.7" stroke="#ffffff" stroke-opacity="0.8" stroke-width="0.5"/>
<circle cx="335.7" cy="1556.9" r="1.5" fill="#e6f4fd" fill-opacity="0.7" stroke="#ffffff" stroke-opacity="0.8" stroke-width="0.5"/>
<circle cx="340.0" cy="1567.2" r="1.6" fill="#e6f4fd" fill-opacity="0.7" stroke="#ffffff" stroke-opacity="0.8" stroke-width="0.5"/>
<circle cx="345.6" cy="1581.4" r="1.3" fill="#e6f4fd" fill-opacity="0.7" stroke="#ffffff" stroke-opacity="0.8" stroke-width="0.5"/>
<path d="M124.25,1481.75 L150.5,1454.5 L235.5,1454.5 M124.25,1481.75 L209.25,1481.75 M124.25,1481.75 L124.25,1595.5 M150.5,1454.5 L150.5,1568" fill="none" stroke="#1f2a3a" stroke-width="1"/>
<path d="M124.25,1595.5 L150.5,1568 L192.25,1591.5 M124.25,1595.5 L154.25,1611.5 M209.25,1595.5 L168.25,1619.0 M192.25,1591.5 L168.25,1619.0" fill="none" stroke="#1f2a3a" stroke-width="0.9" stroke-opacity="0.85"/>
<path d="M209.25,1481.75 L235.5,1454.5 L320.5,1454.5 M209.25,1481.75 L294.25,1481.75 M209.25,1481.75 L209.25,1595.5 M235.5,1454.5 L235.5,1568" fill="none" stroke="#1f2a3a" stroke-width="1"/>
<path d="M209.25,1595.5 L235.5,1568 L277.25,1591.5 M209.25,1595.5 L239.25,1611.5 M294.25,1595.5 L253.25,1619.0 M277.25,1591.5 L253.25,1619.0" fill="none" stroke="#1f2a3a" stroke-width="0.9" stroke-opacity="0.85"/>
<path d="M294.25,1481.75 L320.5,1454.5 L405.5,1454.5 M294.25,1481.75 L379.25,1481.75 M294.25,1481.75 L294.25,1595.5 M320.5,1454.5 L320.5,1568" fill="none" stroke="#1f2a3a" stroke-width="1"/>
<path d="M294.25,1595.5 L320.5,1568 L362.25,1591.5 M294.25,1595.5 L324.25,1611.5 M379.25,1595.5 L338.25,1619.0 M362.25,1591.5 L338.25,1619.0" fill="none" stroke="#1f2a3a" stroke-width="0.9" stroke-opacity="0.85"/>
<path d="M379.25,1481.75 L405.5,1454.5 L490.5,1454.5 M379.25,1481.75 L464.25,1481.75 M379.25,1481.75 L379.25,1595.5 M405.5,1454.5 L405.5,1568" fill="none" stroke="#1f2a3a" stroke-width="1"/>
<path d="M379.25,1595.5 L405.5,1568 L447.25,1591.5 M379.25,1595.5 L409.25,1611.5 M464.25,1595.5 L423.25,1619.0 M447.25,1591.5 L423.25,1619.0" fill="none" stroke="#1f2a3a" stroke-width="0.9" stroke-opacity="0.85"/>
<path d="M464.25,1481.75 L490.5,1454.5 L490.5,1568 M464.25,1481.75 L464.25,1595.5 L490.5,1568" fill="none" stroke="#1f2a3a" stroke-width="1"/>
<path d="M252.5,1497.5 L270.75,1479.25 L270.75,1555 L252.5,1575.75 Z M252.5,1497.5 L270.75,1555 M270.75,1479.25 L252.5,1575.75" fill="none" stroke="#1f2a3a" stroke-width="0.9"/>
<path d="M334.5,1497.5 L352.75,1479.25 L352.75,1555 L334.5,1575.75 Z M334.5,1497.5 L352.75,1555 M352.75,1479.25 L334.5,1575.75" fill="none" stroke="#1f2a3a" stroke-width="0.9"/>
<text x="218.75" y="1587.5" font-size="12.3" fill="#231f20" font-weight="normal" textLength="68.2" lengthAdjust="spacingAndGlyphs" >Electrode unit</text>
<text x="303" y="1587.5" font-size="12.3" fill="#231f20" font-weight="normal" textLength="68.2" lengthAdjust="spacingAndGlyphs" >Electrode unit</text>
<path d="M238.5,1630 L238.5,1653 Q238.5,1665 250.5,1665 L520,1665" fill="none" stroke="#1f2a3a" stroke-width="13.6" stroke-linejoin="round"/>
<ellipse cx="520" cy="1665" rx="3.6" ry="6.8" fill="#fff" stroke="#1f2a3a" stroke-width="1"/>
<path d="M238.5,1630 L238.5,1653 Q238.5,1665 250.5,1665 L520,1665" fill="none" stroke="#ffffff" stroke-width="11.6" stroke-linejoin="round"/>
<ellipse cx="520" cy="1665" rx="3.1" ry="6.1" fill="#fff" stroke="#1f2a3a" stroke-width="0.9"/>
<path d="M163.0,1611.5 L153.5,1621 L153.5,1655.5" fill="none" stroke="#1f2a3a" stroke-width="13.7" stroke-linecap="round" stroke-linejoin="round"/>
<path d="M163.0,1611.5 L153.5,1621 L153.5,1655.5" fill="none" stroke="#ffffff" stroke-width="12" stroke-linecap="round" stroke-linejoin="round"/>
<path d="M248.0,1611.5 L238.5,1621 L238.5,1640" fill="none" stroke="#1f2a3a" stroke-width="13.7" stroke-linecap="round" stroke-linejoin="round"/>
<path d="M248.0,1611.5 L238.5,1621 L238.5,1640" fill="none" stroke="#ffffff" stroke-width="12" stroke-linecap="round" stroke-linejoin="round"/>
<rect x="232.7" y="1630" width="11.6" height="22" fill="#fff"/>
<path d="M333.0,1611.5 L323.5,1621 L323.5,1655.5" fill="none" stroke="#1f2a3a" stroke-width="13.7" stroke-linecap="round" stroke-linejoin="round"/>
<path d="M333.0,1611.5 L323.5,1621 L323.5,1655.5" fill="none" stroke="#ffffff" stroke-width="12" stroke-linecap="round" stroke-linejoin="round"/>
<path d="M418.0,1611.5 L408.5,1621 L408.5,1655.5" fill="none" stroke="#1f2a3a" stroke-width="13.7" stroke-linecap="round" stroke-linejoin="round"/>
<path d="M418.0,1611.5 L408.5,1621 L408.5,1655.5" fill="none" stroke="#ffffff" stroke-width="12" stroke-linecap="round" stroke-linejoin="round"/>
<path d="M140.0,1629.5 L167.0,1629.5 M140.0,1649.5 L167.0,1649.5 M140.5,1629.5 L166.5,1649.5 M166.5,1629.5 L140.5,1649.5" fill="none" stroke="#1f2a3a" stroke-width="1"/>
<path d="M225.0,1629.5 L252.0,1629.5 M225.0,1649.5 L252.0,1649.5 M225.5,1629.5 L251.5,1649.5 M251.5,1629.5 L225.5,1649.5" fill="none" stroke="#1f2a3a" stroke-width="1"/>
<path d="M310.0,1629.5 L337.0,1629.5 M310.0,1649.5 L337.0,1649.5 M310.5,1629.5 L336.5,1649.5 M336.5,1629.5 L310.5,1649.5" fill="none" stroke="#1f2a3a" stroke-width="1"/>
<path d="M395.0,1629.5 L422.0,1629.5 M395.0,1649.5 L422.0,1649.5 M395.5,1629.5 L421.5,1649.5 M421.5,1629.5 L395.5,1649.5" fill="none" stroke="#1f2a3a" stroke-width="1"/>
<rect x="485" y="1494.5" width="46" height="13" fill="#fff" stroke="#1f2a3a" stroke-width="1"/>
<ellipse cx="485.5" cy="1501" rx="3" ry="6.5" fill="#fff"/>
<path d="M486,1494.5 A3,6.5 0 0 0 486,1507.5" fill="#fff" stroke="#1f2a3a" stroke-width="1"/>
<ellipse cx="531.5" cy="1501" rx="3.4" ry="6.5" fill="#fff" stroke="#1f2a3a" stroke-width="1"/>
<text x="547" y="1493.25" font-size="13.8" fill="#231f20" font-weight="normal" textLength="29.2" lengthAdjust="spacingAndGlyphs" >OUT</text>
<path d="M513,1515 L524.0,1515 L524.0,1511.6 L531.5,1517 L524.0,1522.4 L524.0,1519 L513,1519 Z" fill="#f5821f"/>
<text x="508.25" y="1541" font-size="12.6" fill="#231f20" font-weight="normal" textLength="54.8" lengthAdjust="spacingAndGlyphs" >To cooling</text>
<text x="508.25" y="1552.8" font-size="12.6" fill="#231f20" font-weight="normal" textLength="29.2" lengthAdjust="spacingAndGlyphs" >tower</text>
<path d="M530.5,1662.5 L541.0,1662.5 L541.0,1659.1 L548.5,1664.5 L541.0,1669.9 L541.0,1666.5 L530.5,1666.5 Z" fill="#f5821f"/>
<text x="555.3" y="1668.9" font-size="12.8" fill="#231f20" font-weight="normal" textLength="74.2" lengthAdjust="spacingAndGlyphs" >To be drained</text>
<text x="165.5" y="1695.5" font-size="13.4" fill="#231f20" font-weight="normal" textLength="14.0" lengthAdjust="spacingAndGlyphs" >IN</text>
<path d="M542.5,1502.5 L577.5,1502.5 L577.5,1638 L695.5,1638 L695.5,1622" fill="none" stroke="#4dc1b6" stroke-width="5.6" stroke-linejoin="round"/>
<path d="M695.5,1615 L703.7,1624 L687.3,1624 Z" fill="#4dc1b6"/>
<path d="M979,1636 L979,1704.5 L152.5,1704.5 L152.5,1672" fill="none" stroke="#4dc1b6" stroke-width="5.6" stroke-linejoin="round"/>
<path d="M152.5,1665 L160.7,1673.5 L144.3,1673.5 Z" fill="#4dc1b6"/>
<path d="M718,1466 L718,1425.75 L1118.75,1425.75 L1118.75,1635.5 L1080,1635.5" fill="none" stroke="#f05a1e" stroke-width="6" stroke-linejoin="round"/>
<path d="M864.25,1425.75 L864.25,1466" fill="none" stroke="#f05a1e" stroke-width="6"/>
<path d="M718,1473.5 L709.7,1464 L726.3,1464 Z" fill="#f05a1e"/>
<path d="M864.25,1473.5 L855.95,1464 L872.55,1464 Z" fill="#f05a1e"/>
<path d="M785.75,1620 L785.75,1635.5 L1028,1635.5" fill="none" stroke="#1b80d4" stroke-width="5.6" stroke-linejoin="round"/>
<circle cx="978.75" cy="1635.75" r="6.8" fill="#1b80d4"/>
<path d="M920.5,1627 L920.5,1643.75 L935.5,1635.5 Z" fill="#fff" stroke="#4a5aa8" stroke-width="1.1"/>
<path d="M942.5,1634.5 L952.5,1634.5 L956.75,1646.25 L939.25,1646.25 Z" fill="#fff" stroke="#4a5aa8" stroke-width="1.1"/>
<circle cx="947.5" cy="1626.75" r="7.5" fill="#fff" stroke="#4a5aa8" stroke-width="1.1"/>
<text x="947.6" y="1630.9" font-size="11.5" fill="#4a5aa8" text-anchor="middle">P</text>
<rect x="1019.5" y="1611.75" width="66.25" height="46.5" fill="#fff" stroke="#231f20" stroke-width="1"/>
<text x="1033.75" y="1605" font-size="12.7" fill="#231f20" font-weight="normal" textLength="34.2" lengthAdjust="spacingAndGlyphs" >Chiller</text>
<path d="M1019.5,1635.5 L1027,1635.5" stroke="#1b80d4" stroke-width="5.6"/>
<path d="M1024.50,1635.50 L1028.75,1623.50 L1033.75,1648.00 L1038.50,1623.50 L1043.50,1648.00 L1048.25,1623.50 L1053.25,1648.00 L1058.00,1623.50 L1063.00,1648.00 L1067.75,1623.50 L1072.75,1648.00 L1077.50,1623.50 L1081.50,1635.50" fill="none" stroke="url(#coil)" stroke-width="5" stroke-linejoin="round" stroke-linecap="round"/>
<path d="M675.5,1488.75 L675.5,1478 L750.5,1478 L750.5,1456.25 L825.5,1456.25 L825.5,1478 L900.5,1478 L900.5,1488.75" fill="none" stroke="#2b2b2b" stroke-width="1.5"/>
<ellipse cx="769.6" cy="1468" rx="15.9" ry="5.2" fill="#fff" stroke="#2b2b2b" stroke-width="1"/>
<ellipse cx="805.6" cy="1468" rx="16.4" ry="5.2" fill="#fff" stroke="#2b2b2b" stroke-width="1"/>
<rect x="785.5" y="1459.5" width="3.75" height="16" fill="#fff" stroke="#2b2b2b" stroke-width="1"/>
<path d="M772.5,1453 L772.5,1441" stroke="#c44fc0" stroke-width="1.3"/>
<path d="M772.5,1433.75 L776.3,1442 L768.7,1442 Z" fill="#c44fc0"/>
<path d="M788.25,1453 L788.25,1441" stroke="#c44fc0" stroke-width="1.3"/>
<path d="M788.25,1433.75 L792.05,1442 L784.45,1442 Z" fill="#c44fc0"/>
<path d="M804.5,1453 L804.5,1441" stroke="#c44fc0" stroke-width="1.3"/>
<path d="M804.5,1433.75 L808.3,1442 L800.7,1442 Z" fill="#c44fc0"/>
<rect x="683" y="1488" width="67" height="115.75" rx="1.5" fill="url(#fill)"/>
<rect x="688.75" y="1494.50" width="55.5" height="5.7" fill="#fff"/>
<rect x="688.75" y="1506.81" width="55.5" height="5.7" fill="#fff"/>
<rect x="688.75" y="1519.12" width="55.5" height="5.7" fill="#fff"/>
<rect x="688.75" y="1531.43" width="55.5" height="5.7" fill="#fff"/>
<rect x="688.75" y="1543.74" width="55.5" height="5.7" fill="#fff"/>
<rect x="688.75" y="1556.05" width="55.5" height="5.7" fill="#fff"/>
<rect x="688.75" y="1568.36" width="55.5" height="5.7" fill="#fff"/>
<rect x="688.75" y="1580.67" width="55.5" height="5.7" fill="#fff"/>
<rect x="688.75" y="1592.98" width="55.5" height="5.7" fill="#fff"/>
<rect x="707" y="1498.25" width="17.3" height="83" fill="#fff" stroke="#231f20" stroke-width="0.9"/>
<text transform="translate(720.5,1579.6) rotate(-90)" font-size="13.4" fill="#231f20" textLength="80" lengthAdjust="spacingAndGlyphs">Filling material</text>
<rect x="825.5" y="1488" width="67" height="115.75" rx="1.5" fill="url(#fill)"/>
<rect x="831.25" y="1494.50" width="55.0" height="5.7" fill="#fff"/>
<rect x="831.25" y="1506.81" width="55.0" height="5.7" fill="#fff"/>
<rect x="831.25" y="1519.12" width="55.0" height="5.7" fill="#fff"/>
<rect x="831.25" y="1531.43" width="55.0" height="5.7" fill="#fff"/>
<rect x="831.25" y="1543.74" width="55.0" height="5.7" fill="#fff"/>
<rect x="831.25" y="1556.05" width="55.0" height="5.7" fill="#fff"/>
<rect x="831.25" y="1568.36" width="55.0" height="5.7" fill="#fff"/>
<rect x="831.25" y="1580.67" width="55.0" height="5.7" fill="#fff"/>
<rect x="831.25" y="1592.98" width="55.0" height="5.7" fill="#fff"/>
<rect x="852" y="1498.25" width="17.3" height="83" fill="#fff" stroke="#231f20" stroke-width="0.9"/>
<text transform="translate(865.5,1579.6) rotate(-90)" font-size="13.4" fill="#231f20" textLength="80" lengthAdjust="spacingAndGlyphs">Filling material</text>
<path d="M669.3,1490.30 L678.7,1488.50 M897.1,1490.30 L906.5,1488.50 M669.3,1494.40 L678.7,1492.60 M897.1,1494.40 L906.5,1492.60 M669.3,1498.50 L678.7,1496.70 M897.1,1498.50 L906.5,1496.70 M669.3,1502.60 L678.7,1500.80 M897.1,1502.60 L906.5,1500.80 M669.3,1506.70 L678.7,1504.90 M897.1,1506.70 L906.5,1504.90 M669.3,1510.80 L678.7,1509.00 M897.1,1510.80 L906.5,1509.00 M669.3,1514.90 L678.7,1513.10 M897.1,1514.90 L906.5,1513.10 M669.3,1519.00 L678.7,1517.20 M897.1,1519.00 L906.5,1517.20 M669.3,1523.10 L678.7,1521.30 M897.1,1523.10 L906.5,1521.30 M669.3,1527.20 L678.7,1525.40 M897.1,1527.20 L906.5,1525.40 M669.3,1531.30 L678.7,1529.50 M897.1,1531.30 L906.5,1529.50 M669.3,1535.40 L678.7,1533.60 M897.1,1535.40 L906.5,1533.60 M669.3,1539.50 L678.7,1537.70 M897.1,1539.50 L906.5,1537.70 M669.3,1543.60 L678.7,1541.80 M897.1,1543.60 L906.5,1541.80 M669.3,1547.70 L678.7,1545.90 M897.1,1547.70 L906.5,1545.90 M669.3,1551.80 L678.7,1550.00 M897.1,1551.80 L906.5,1550.00 M669.3,1555.90 L678.7,1554.10 M897.1,1555.90 L906.5,1554.10 M669.3,1560.00 L678.7,1558.20 M897.1,1560.00 L906.5,1558.20 M669.3,1564.10 L678.7,1562.30 M897.1,1564.10 L906.5,1562.30 M669.3,1568.20 L678.7,1566.40 M897.1,1568.20 L906.5,1566.40 M669.3,1572.30 L678.7,1570.50 M897.1,1572.30 L906.5,1570.50 M669.3,1576.40 L678.7,1574.60 M897.1,1576.40 L906.5,1574.60 M669.3,1580.50 L678.7,1578.70 M897.1,1580.50 L906.5,1578.70 M669.3,1584.60 L678.7,1582.80 M897.1,1584.60 L906.5,1582.80 M669.3,1588.70 L678.7,1586.90 M897.1,1588.70 L906.5,1586.90 M669.3,1592.80 L678.7,1591.00 M897.1,1592.80 L906.5,1591.00 M669.3,1596.90 L678.7,1595.10 M897.1,1596.90 L906.5,1595.10 M669.3,1601.00 L678.7,1599.20 M897.1,1601.00 L906.5,1599.20" stroke="#262626" stroke-width="1.45" fill="none"/>
<path d="M675.5,1603 L675.5,1621 M900.2,1603 L900.2,1621 M675.5,1612.5 L750.5,1612.5 L757.5,1620 L815,1620 L822.5,1612.5 L900.2,1612.5" fill="none" stroke="#4a4a4a" stroke-width="1.4"/>
<rect x="671.3" y="1621" width="8.3" height="2.6" fill="#fff" stroke="#222" stroke-width="1"/>
<rect x="896" y="1621" width="8.3" height="2.6" fill="#fff" stroke="#222" stroke-width="1"/>
<path d="M760.75,1500.75 C769,1500.75 773.75,1496.75 773.75,1488.25" fill="none" stroke="#c44fc0" stroke-width="1.5"/>
<path d="M773.75,1481.25 L777.9,1489.75 L769.6,1489.75 Z" fill="#c44fc0"/>
<path d="M815,1500.75 C806.8,1500.75 802,1496.75 802,1488.25" fill="none" stroke="#c44fc0" stroke-width="1.5"/>
<path d="M802,1481.25 L806.2,1489.75 L797.8,1489.75 Z" fill="#c44fc0"/>
<path d="M760.75,1525.05 C769,1525.05 773.75,1521.05 773.75,1512.55" fill="none" stroke="#c44fc0" stroke-width="1.5"/>
<path d="M773.75,1505.55 L777.9,1514.05 L769.6,1514.05 Z" fill="#c44fc0"/>
<path d="M815,1525.05 C806.8,1525.05 802,1521.05 802,1512.55" fill="none" stroke="#c44fc0" stroke-width="1.5"/>
<path d="M802,1505.55 L806.2,1514.05 L797.8,1514.05 Z" fill="#c44fc0"/>
<path d="M760.75,1549.35 C769,1549.35 773.75,1545.35 773.75,1536.85" fill="none" stroke="#c44fc0" stroke-width="1.5"/>
<path d="M773.75,1529.85 L777.9,1538.35 L769.6,1538.35 Z" fill="#c44fc0"/>
<path d="M815,1549.35 C806.8,1549.35 802,1545.35 802,1536.85" fill="none" stroke="#c44fc0" stroke-width="1.5"/>
<path d="M802,1529.85 L806.2,1538.35 L797.8,1538.35 Z" fill="#c44fc0"/>
<path d="M760.75,1573.65 C769,1573.65 773.75,1569.65 773.75,1561.15" fill="none" stroke="#c44fc0" stroke-width="1.5"/>
<path d="M773.75,1554.15 L777.9,1562.65 L769.6,1562.65 Z" fill="#c44fc0"/>
<path d="M815,1573.65 C806.8,1573.65 802,1569.65 802,1561.15" fill="none" stroke="#c44fc0" stroke-width="1.5"/>
<path d="M802,1554.15 L806.2,1562.65 L797.8,1562.65 Z" fill="#c44fc0"/>
<path d="M760.75,1597.95 C769,1597.95 773.75,1593.95 773.75,1585.45" fill="none" stroke="#c44fc0" stroke-width="1.5"/>
<path d="M773.75,1578.45 L777.9,1586.95 L769.6,1586.95 Z" fill="#c44fc0"/>
<path d="M815,1597.95 C806.8,1597.95 802,1593.95 802,1585.45" fill="none" stroke="#c44fc0" stroke-width="1.5"/>
<path d="M802,1578.45 L806.2,1586.95 L797.8,1586.95 Z" fill="#c44fc0"/>
<path d="M639.5,1497.50 L657,1497.50" stroke="#29abe2" stroke-width="1.5"/>
<path d="M663.75,1497.50 L655.5,1493.20 L655.5,1501.80 Z" fill="#29abe2"/>
<path d="M935.5,1497.50 L918,1497.50" stroke="#29abe2" stroke-width="1.5"/>
<path d="M912.5,1497.50 L920.7,1493.20 L920.7,1501.80 Z" fill="#29abe2"/>
<path d="M639.5,1513.60 L657,1513.60" stroke="#29abe2" stroke-width="1.5"/>
<path d="M663.75,1513.60 L655.5,1509.30 L655.5,1517.90 Z" fill="#29abe2"/>
<path d="M935.5,1513.60 L918,1513.60" stroke="#29abe2" stroke-width="1.5"/>
<path d="M912.5,1513.60 L920.7,1509.30 L920.7,1517.90 Z" fill="#29abe2"/>
<path d="M639.5,1529.70 L657,1529.70" stroke="#29abe2" stroke-width="1.5"/>
<path d="M663.75,1529.70 L655.5,1525.40 L655.5,1534.00 Z" fill="#29abe2"/>
<path d="M935.5,1529.70 L918,1529.70" stroke="#29abe2" stroke-width="1.5"/>
<path d="M912.5,1529.70 L920.7,1525.40 L920.7,1534.00 Z" fill="#29abe2"/>
<path d="M639.5,1545.80 L657,1545.80" stroke="#29abe2" stroke-width="1.5"/>
<path d="M663.75,1545.80 L655.5,1541.50 L655.5,1550.10 Z" fill="#29abe2"/>
<path d="M935.5,1545.80 L918,1545.80" stroke="#29abe2" stroke-width="1.5"/>
<path d="M912.5,1545.80 L920.7,1541.50 L920.7,1550.10 Z" fill="#29abe2"/>
<path d="M639.5,1561.90 L657,1561.90" stroke="#29abe2" stroke-width="1.5"/>
<path d="M663.75,1561.90 L655.5,1557.60 L655.5,1566.20 Z" fill="#29abe2"/>
<path d="M935.5,1561.90 L918,1561.90" stroke="#29abe2" stroke-width="1.5"/>
<path d="M912.5,1561.90 L920.7,1557.60 L920.7,1566.20 Z" fill="#29abe2"/>
<path d="M639.5,1578.00 L657,1578.00" stroke="#29abe2" stroke-width="1.5"/>
<path d="M663.75,1578.00 L655.5,1573.70 L655.5,1582.30 Z" fill="#29abe2"/>
<path d="M935.5,1578.00 L918,1578.00" stroke="#29abe2" stroke-width="1.5"/>
<path d="M912.5,1578.00 L920.7,1573.70 L920.7,1582.30 Z" fill="#29abe2"/>
<text transform="translate(633.6,1575.5) rotate(-90)" font-size="13.4" fill="#231f20" textLength="61" lengthAdjust="spacingAndGlyphs">Outside-air</text>
<text transform="translate(950.4,1575.5) rotate(-90)" font-size="13.4" fill="#231f20" textLength="61" lengthAdjust="spacingAndGlyphs">Outside-air</text>
</svg>
<div class="t" style="left:76.55px;top:30.76px;font-size:53.8px;transform:scaleX(0.9841);color:#ffffff;">DB Scale Separator</div>
<div class="t" style="left:512.30px;top:84.40px;font-size:10.4px;transform:scaleX(0.9836);color:#ffffff;font-weight:normal;">PATENTED</div>
<div class="t" style="left:96.14px;top:103.91px;font-size:25.5px;transform:scaleX(0.8631);color:#ffffff;">Dielectric breakdown type electrolysis</div>
<div class="t" style="left:716.20px;top:59.94px;font-size:40px;transform:scaleX(0.9257);color:#ffffff;">We suggest a new water</div>
<div class="t" style="left:715.80px;top:103.74px;font-size:40px;transform:scaleX(0.9261);color:#ffffff;">treatment method.</div>
<div class="t" style="left:89.99px;top:189.70px;font-size:37.8px;transform:scaleX(1.0063);color:#2f5fb5;">Features</div>
<div class="t" style="left:90.00px;top:470.20px;font-size:37.8px;transform:scaleX(0.9999);color:#2f5fb5;">Effects</div>
<div class="t" style="left:88.80px;top:856.60px;font-size:37.8px;transform:scaleX(1.0136);color:#2f5fb5;">The principle (conceptual drawing)</div>
<div class="t" style="left:88.80px;top:1319.00px;font-size:37.8px;transform:scaleX(1.0105);color:#2f5fb5;">Treatment Flow (conceptual drawing)</div>
<div class="t" style="left:111.74px;top:254.04px;font-size:30.2px;transform:scaleX(0.8804);color:#231f20;">Dielectric breakdown method electrolysis system using a titanium plate (electrode).</div>
<div class="t" style="left:112.50px;top:293.28px;font-size:23.3px;transform:scaleX(0.9063);color:#231f20;">* Japan and international patent</div>
<div class="t" style="left:113.60px;top:320.74px;font-size:30.2px;transform:scaleX(0.8794);color:#231f20;">The titanium electrode characteristics makes it possible to separate and remove</div>
<div class="t" style="left:111.62px;top:352.04px;font-size:30.2px;transform:scaleX(0.8810);color:#231f20;">even ionized silica, which is difficult to remove using existing systems.</div>
<div class="t" style="left:111.93px;top:386.44px;font-size:30.2px;transform:scaleX(0.7831);color:#231f20;">No chemicals are used, which eliminates equipment damage and increases equipment life.</div>
<div class="t" style="left:111.93px;top:418.14px;font-size:30.2px;transform:scaleX(0.7828);color:#231f20;">No need to worry about emission control in the case of water that includes chemicals.</div>
<div class="t" style="left:112.50px;top:536.44px;font-size:30.2px;transform:scaleX(0.8273);color:#231f20;">Saves energy and</div>
<div class="t" style="left:111.67px;top:568.24px;font-size:30.2px;transform:scaleX(0.8309);color:#231f20;">electric power!</div>
<div class="t" style="left:344.31px;top:545.61px;font-size:17px;transform:scaleX(0.6874);color:#231f20;">Elimination of scales from heat exchange parts and piping improves heat exchange efficiency.</div>
<div class="t" style="left:345.00px;top:568.61px;font-size:17px;transform:scaleX(0.6832);color:#231f20;">This reduces wasted power, electricity, energy, supply water, and other costs.</div>
<div class="t" style="left:894.77px;top:466.07px;font-size:34.3px;transform:scaleX(0.6151);color:#e2231a;">Eliminates scale problems!</div>
<div class="t" style="left:898.97px;top:508.07px;font-size:33.7px;transform:scaleX(0.5254);color:#3560ae;">25 to 100 kg [55.116  to 220.5 lb]/</div>
<div class="t" style="left:918.40px;top:548.07px;font-size:33.7px;transform:scaleX(0.5221);color:#3560ae;">365 day component removal</div>
<div class="t" style="left:112.50px;top:601.94px;font-size:30.2px;transform:scaleX(0.8400);color:#231f20;word-spacing:2.97px;">Well-balanced simultaneous separation and removal of scale-derived components in</div>
<div class="t" style="left:113.34px;top:634.04px;font-size:30.2px;transform:scaleX(0.8400);color:#231f20;word-spacing:2.29px;">water (ionized silica, hardness components, etc.) and corrosion-derived components</div>
<div class="t" style="left:112.17px;top:666.64px;font-size:30.2px;transform:scaleX(0.8261);color:#231f20;">(chloride ions, sulfate ions, etc.).</div>
<div class="t" style="left:112.50px;top:698.44px;font-size:30.2px;transform:scaleX(0.8303);color:#231f20;">Stable water quality (stability index = 6 to 7*) suppresses scale and corrosion damage.</div>
<div class="t" style="left:112.50px;top:735.94px;font-size:17.2px;transform:scaleX(1.0263);color:#231f20;font-weight:normal;">* : Stabilizing index=6 (scale property) &lt; Treated water Note &lt; 7 (corrosion property)</div>
<div class="t" style="left:111.97px;top:755.14px;font-size:17.2px;transform:scaleX(1.0254);color:#231f20;font-weight:normal;">Note: This varies depending on water quality, load, and operating conditions.</div>
<div class="t" style="left:111.74px;top:775.74px;font-size:30.2px;transform:scaleX(0.8820);color:#231f20;">Reduced slime damage</div>
<div class="t" style="left:112.50px;top:809.04px;font-size:30.2px;transform:scaleX(0.8786);color:#231f20;">and algae.</div>
<div class="t" style="left:459.50px;top:790.21px;font-size:18.3px;transform:scaleX(0.8800);color:#231f20;word-spacing:6.15px;">Chloride ions that are present in water generate hypochlorous acid (HClO), which</div>
<div class="t" style="left:458.58px;top:813.41px;font-size:18.3px;transform:scaleX(0.9247);color:#231f20;">produces an antibacterial effect. Tap water generally includes chloride ions.</div>
<div class="t" style="left:867.00px;top:926.93px;font-size:15.2px;transform:scaleX(0.8000);color:#231f20;font-weight:normal;letter-spacing:0.872px;">Scale components (ionized silica and hardness</div>
<div class="t" style="left:867.00px;top:946.10px;font-size:15.2px;transform:scaleX(0.8000);color:#231f20;font-weight:normal;letter-spacing:1.103px;">components etc.) move to the (-) electrode by</div>
<div class="t" style="left:867.00px;top:965.27px;font-size:15.2px;transform:scaleX(0.8000);color:#231f20;font-weight:normal;letter-spacing:1.055px;">electrophoresis due to electrolysis action, and</div>
<div class="t" style="left:867.00px;top:984.44px;font-size:15.2px;transform:scaleX(0.8000);color:#231f20;font-weight:normal;letter-spacing:1.902px;">deposition and precipitation are occurred.</div>
<div class="t" style="left:867.00px;top:1003.61px;font-size:15.2px;transform:scaleX(0.8826);color:#231f20;font-weight:normal;">Some components adhere to the electrode.</div>
<div class="t" style="left:867.00px;top:1022.78px;font-size:15.2px;transform:scaleX(0.8000);color:#231f20;font-weight:normal;letter-spacing:1.034px;">Simultaneously, the (+) electrode&#x27;s breakaway</div>
<div class="t" style="left:867.00px;top:1041.95px;font-size:15.2px;transform:scaleX(0.8000);color:#231f20;font-weight:normal;letter-spacing:1.040px;">action makes corrosive components and some</div>
<div class="t" style="left:867.00px;top:1061.12px;font-size:15.2px;transform:scaleX(0.8000);color:#231f20;font-weight:normal;letter-spacing:0.890px;">part of scale components to coprecipitate to be</div>
<div class="t" style="left:867.00px;top:1080.29px;font-size:15.2px;transform:scaleX(0.8000);color:#231f20;font-weight:normal;letter-spacing:2.785px;">separated and removed with electrode</div>
<div class="t" style="left:867.00px;top:1099.46px;font-size:15.2px;transform:scaleX(0.8864);color:#231f20;font-weight:normal;">components.</div>
<div class="t" style="left:866.20px;top:1118.63px;font-size:15.2px;transform:scaleX(0.8000);color:#231f20;font-weight:normal;letter-spacing:0.693px;">Reversing the (-) polarity to (+) polarity removes</div>
<div class="t" style="left:867.00px;top:1137.80px;font-size:15.2px;transform:scaleX(0.8000);color:#231f20;font-weight:normal;letter-spacing:2.007px;">the scale adhering to the (-) electrode by</div>
<div class="t" style="left:867.00px;top:1156.97px;font-size:15.2px;transform:scaleX(0.8000);color:#231f20;font-weight:normal;letter-spacing:1.698px;">dielectric breakaway action, and maintains</div>
<div class="t" style="left:867.00px;top:1176.14px;font-size:15.2px;transform:scaleX(0.8873);color:#231f20;font-weight:normal;">electrode performance.</div>
<div class="t" style="left:867.00px;top:1195.31px;font-size:15.2px;transform:scaleX(0.8000);color:#231f20;font-weight:normal;letter-spacing:1.285px;">Accumulated deposition at the bottom will be</div>
<div class="t" style="left:867.00px;top:1214.48px;font-size:15.2px;transform:scaleX(0.8855);color:#231f20;font-weight:normal;">periodically drained and automatically removed.</div>
<div class="t" style="left:832.64px;top:1281.13px;font-size:15.2px;transform:scaleX(0.8622);color:#231f20;font-weight:normal;">Note: The electrode is a consumable part.</div>
</body>
</html>
